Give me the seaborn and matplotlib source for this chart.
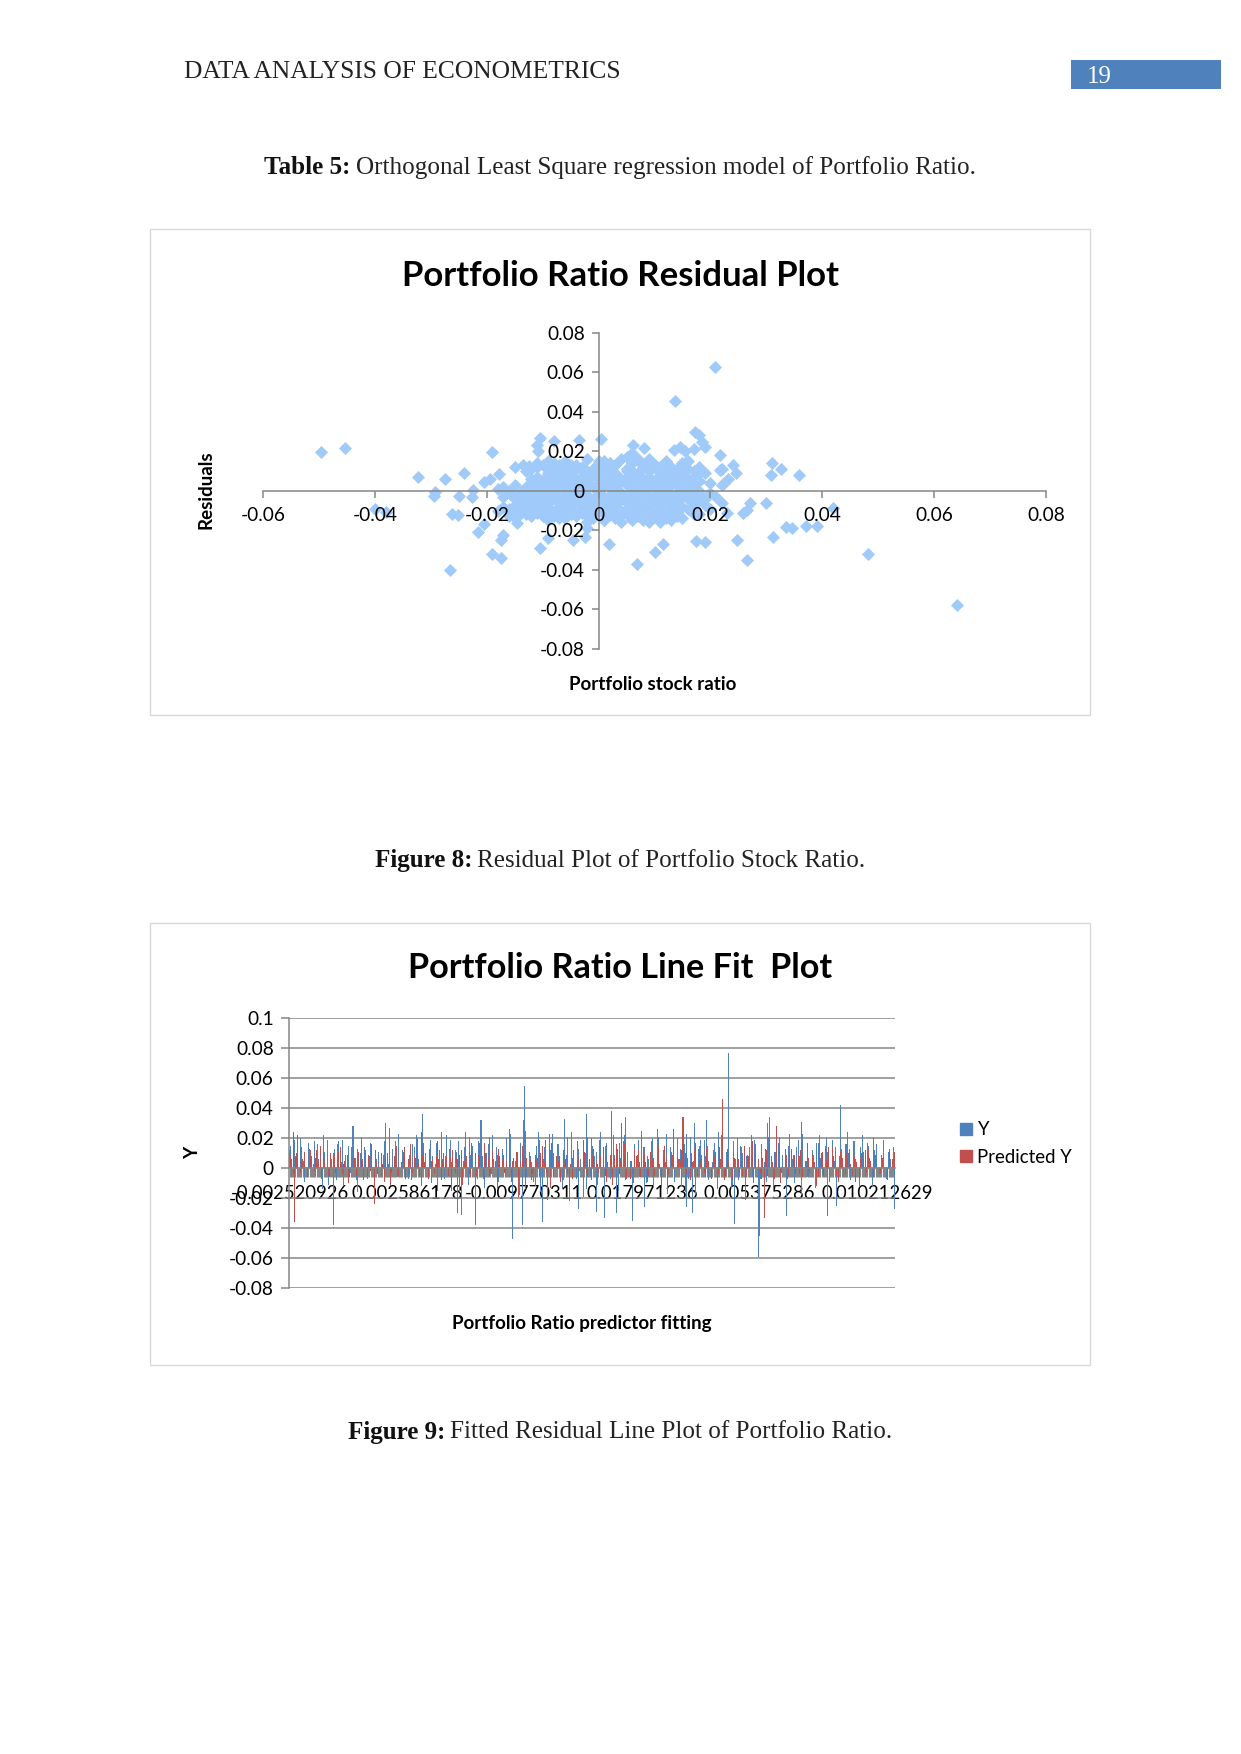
import numpy as np
import pandas as pd
import seaborn as sns
import matplotlib
matplotlib.use("Agg")
import matplotlib.pyplot as plt
from matplotlib.patches import Rectangle, Patch

sns.set_theme(style="white")
plt.rcParams['font.family'] = ['Lato', 'DejaVu Sans']

W, H = 1241, 1754

# ---------- Chart 1 data: residual scatter ----------
OUT_X = [-.0496,-.0453,-.0322,-.0275,-.0295,-.0292,-.0240,-.0250,-.0227,-.0225,-.0400,-.0380,-.0262,-.0252,
         -.0265,-.0190,-.0175,-.0215,-.0205,-.0175,-.0170,-.0105,-.0090,-.0045,-.0025,.0018,.0068,.0100,.0115,
         .0175,.0190,.0247,.0265,.0312,.0335,.0345,.0300,.0270,.0258,.0266,.0370,.0390,.0420,.0482,.0640,
         .0308,.0310,.0326,.0358,.0208,.0136,.0172,-.0190,-.0205,-.0195,-.0178,-.0135,-.0125,-.0110,-.0105,-.0108,
         -.0080,-.0035,.0005,.0060,.0062,.0082,.0135,.0145,.0155,.0180,.0185,.0190,.0218,.0218,.0232,
         .0155,.0160,.0170,.0240,.0245,.0225,-.0020,-.0150,-.0145]
OUT_Y = [.0195,.0218,.0068,.0058,-.0025,-.0005,.0088,-.0025,-.0030,.0005,-.0090,-.0105,-.0120,-.0125,
         -.0400,-.0320,-.0340,-.0210,-.0170,-.0250,-.0225,-.0290,-.0240,-.0250,-.0235,-.0270,-.0370,-.0310,-.0270,
         -.0255,-.0260,-.0250,-.0350,-.0235,-.0185,-.0190,-.0060,-.0060,-.0110,-.0095,-.0180,-.0180,-.0088,-.0320,-.0580,
         .0082,.0138,.0110,.0080,.0625,.0455,.0297,.0195,.0045,.0060,.0085,.0130,.0125,.0230,.0265,.0200,
         .0250,.0255,.0260,.0190,.0230,.0215,.0205,.0220,.0200,.0280,.0245,.0220,.0180,.0105,.0060,
         .0140,.0150,.0210,.0130,.0090,.0040,-.0190,-.0140,-.0165]
CL_X = [-18,-16,-14,-12,-10,-8,-6,-4,-2,0,2,4,6,8,10,12,14,16,18,21,
        -17,-15,-13,-11,-9,-7,-5,-3,-1,1,3,5,7,9,11,13,15,17,19,22,
        -15,-13,-11,-9,-7,-5,-3,-1,1,3,5,7,9,11,13,15,17,19,20,23,
        -12,-10,-8,-6,-4,-2,0,2,4,6,8,10,12,14,16,18,20,22,
        -11,-9,-7,-5,-3,-1,1,3,5,7,9,11,13,15,17,19,
        -9,-6,-4,-2,0,2,3,5,6,8,9,12,14,16,18,
        -18,-16,-14,-12,-10,-8,-6,-4,-2,0,2,4,6,8,10,12,14,16,18,
        -16,-14,-12,-10,-8,-6,-4,-2,1,3,5,7,9,11,13,15,17,
        -15,-12,-11,-9,-7,-3,0,2,5,6,8,9,12,13,15,18,22]
CL_Y = [1,0,-1,1,0,2,0,-1,1,0,2,-1,0,1,2,0,-1,1,0,-3,
        -3,-4,-3,-2,-3,-4,-3,-2,-4,-3,-2,-4,-3,-2,-3,-4,-3,-2,-4,-6,
        -7,-6,-7,-6,-8,-6,-7,-6,-8,-7,-6,-8,-7,-6,-7,-8,-6,-7,-9,-11,
        4,3,5,4,3,5,4,3,5,4,3,4,5,3,4,5,4,3,
        7,8,7,8,7,8,7,8,7,8,7,8,7,8,7,9,
        11,10,11,10,12,10,13,11,10,12,10,11,10,11,9,
        -10,-9,-11,-10,-9,-11,-10,-12,-11,-10,-12,-10,-11,-9,-12,-11,-10,-9,-12,
        -13,-12,-13,-11,-13,-14,-12,-13,-15,-14,-12,-13,-14,-15,-13,-14,-12,
        12,11,14,15,13,12,15,14,17,14,13,16,15,12,14,12,11]
CL2_X = [-17,-15,-13,-11,-9,-7,-5,-3,-1,1,3,5,7,9,11,13,15,17,
         -16,-14,-12,-10,-8,-6,-4,-2,0,2,4,6,8,10,12,14,16,18,20,
         -14,-12,-10,-8,-6,-4,-2,0,2,4,6,8,10,12,14,16,18,
         -17,-15,-13,-11,-9,-7,-5,-3,-1,1,3,5,7,9,11,13,15,17,
         -12,-10,-8,-6,-4,-2,0,2,4,6,8,10,12,14,16,18,
         -9,-7,-5,-3,-1,1,3,5,7,9,11,13,
         -13,-11,-9,-7,-5,-3,-1,1,3,5,7,9,11,13]
CL2_Y = [2,3,2,3,2,3,2,3,2,3,2,3,2,3,2,3,2,3,
         -1,-2,-1,-2,-1,-2,-1,-2,-1,-2,-1,-2,-1,-2,-1,-2,-1,-2,-1,
         -5,-4,-5,-4,-5,-4,-5,-4,-5,-4,-5,-4,-5,-4,-5,-4,-5,
         -8,-9,-8,-9,-8,-9,-8,-9,-8,-9,-8,-9,-8,-9,-8,-9,-8,-9,
         6,5,6,5,6,5,6,5,6,5,6,5,6,5,6,5,
         9,10,9,10,9,10,9,10,9,10,9,10,
         -12,-11,-12,-11,-12,-11,-12,-11,-12,-11,-12,-11,-12,-11]
CL3_X = [-10,-8,-6,-4,-2,0,1,3,4,6,7,9,10,12,
         -13,-11,-8,-5,-1,2,5,8,11,14,17,
         -10,-7,-4,-1,1,4,6,8,10,12,14,
         -9,-6,-2,4,6,9,11,13]
CL3_Y = [13,14,15,13,16,14,15,13,16,14,16,15,13,14,
         10,12,11,13,11,12,11,13,12,11,10,
         -13,-14,-13,-14,-15,-13,-14,-15,-13,-14,-13,
         -15,-14,-16,-16,-15,-16,-16,-15]

# ---------- Chart 2 data: line fit bars (thousandths, even categories) ----------
Y_BASE = [12,-6,19,8,-9,14,5,-12,17,9,3,-5,16,7,-14,11,19,-4,6,13,-8,18,4,-11,9,15,
          -3,12,7,-16,10,5,14,-7,8,2,-13,6,11,-5,9,16,3,-10,13,18,-6,7,12,-4,20,9,
          -8,14,22,6,-12,17,10,-5,19,8,3,-15,12,6,-7,22,13,4,-9,11,18,-6,5,24,-11,9,
          15,3,-7,17,8,-13,10,21,-4,6,14,-9,19,7,-5,12,23,-12,5,9,-18,3,7,-6,11,4,
          -9,15,24,-16,6,19,-21,12,23,-8,16,5,-13,18,9,-22,24,4,-7,13,6,-19,10,21,-5,15,
          8,-11,19,6,-24,17,9,-4,22,12,-15,7,18,-8,11,5,-20,16,9,-6,25,14,-10,6,18,-13,
          9,21,-5,12,4,-17,14,8,-9,20,6,-12,16,23,-7,10,5,-18,13,19,-6,8,15,-11,4,17,
          -14,9,22,-5,11,7,-13,18,6,-8,15,10,-21,5,14,-6,19,8,-12,16,4,-9,21,7,-15,11,
          17,-5,9,13,-7,23,6,-10,14,8,-18,12,5,-6,20,9,-13,17,7,-4,15,11,-9,19,5,-14,
          8,13,-6,16,10,-8,18,6,-11,14,9,-5,17,7,-12,12,16,-4,9,19,-7,11,6,14]
Y_EXTRA = [15,8,20,-9,13,18,6,22,-11,10,16,19,7,14,-8,21,12,17,9,-13,18,15,6,23,11,-7,
           16,20,9,13,-10,17,24,8,19,12,-15,14,21,10,18,-6,16,22,9,13,20,-9,11,17,25,8,
           -12,19,14,23,10,16,-8,21,7,18,13,-14,20,11,24,15,-7,9,17,22,12,-10,19,14,8,20,
           16,-9,23,11,18,13,-16,21,9,15,19,-8,12,24,17,10,-11,20,14,8,22,16,-7,13,18,11,
           21,-13,15,9,19,23,-6,12,17,10,20,-9,14,22,16,8,18,-12,11,15,21,13]
P_BASE = [9,-4,7,13,-3,6,11,-6,4,8,-2,12,5,-7,9,3,-5,10,6,-3,8,14,-4,5,9,-6,
          3,7,-5,11,4,-8,6,9,-2,5,12,-4,7,3,-9,10,6,-3,8,15,-5,4,9,-7,6,16,
          -3,7,11,-5,8,4,-6,13,5,-3,9,6,-8,10,4,-5,7,12,-3,6,9,-11,5,8,-4,17,
          6,-5,9,3,-7,10,7,-4,12,5,-13,8,6,-3,4,9,-6,7,11,-19,5,8,-14,3,6,-4,
          9,7,-5,15,4,-3,10,17,-6,8,5,-9,12,6,-4,3,-7,9,5,-2,7,11,-4,6,-8,13,
          5,-3,8,14,-5,4,9,-11,7,13,-4,6,16,-7,10,5,-3,8,12,-6,7,4,-9,11,6,-5,
          8,3,-13,15,7,-4,9,18,-16,6,5,-3,10,7,-8,4,12,-5,6,9,-3,14,5,-7,8,11,
          -4,6,9,-5,13,4,-8,7,10,-3,5,15,-6,8,4,-10,12,6,-3,7,9,-5,16,4,-7,8,
          11,-3,6,9,-5,13,7,-4,8,12,-6,5,17,-3,9,4,-12,7,10,-5,6,14,-3,8,5,-9,
          11,7,-4,6,13,-5,8,4,-7,10,6,-3,12,5,-6,9,15,-4,7,5,-8,13,6,11]
P_EXTRA = [6,10,4,-8,12,7,15,5,-6,9,11,3,-10,8,13,6,-5,16,4,10,7,-12,5,9,14,-4,
           8,3,11,-7,6,18,5,9,-15,7,12,4,-6,10,8,17,-5,6,13,9,-3,5,11,15,7,-8,
           4,10,6,-13,14,8,5,-4,12,7,19,-6,9,3,11,-9,6,16,5,8,-7,13,4,10,-5,7,
           15,6,-11,9,3,12,-4,8,17,5,-6,10,7,14,-8,4,11,6,-5,9,18,3,-7,12,8,5,
           -10,13,6,9,-4,16,7,5,-6,11,4,14,-5,8,10,3,-9,7,12,6]
Y_PEAK_CAT = [3,37,54,82,85,113,143,146,158,163,187,190,198,199,200,215,234,246,253,261,268,274,278,286,292,
              302,313,338,343,345,355,374,379,399,400,407,409,423,436,451,458,466,469,475,488,515]
Y_PEAK_VAL = [20,-38,28,30,27,36,-30,-31,-38,32,26,-47,-38,32,55,-36,33,-27,36,-29,-33,38,-30,34,-35,
              -26,26,-26,-30,30,32,77,-37,-59,-45,30,34,-32,31,22,-32,-25,42,24,22,-27]
P_PEAK_CAT = [3,4,7,72,112,283,327,335,369,404,415]
P_PEAK_VAL = [24,-36,22,-24,24,30,26,34,46,-33,28]
CAT_TICKS = [0,100,200,300,400,500]
CAT_LABELS = ["-0.002520926","0.002586178","-0.009770311","0.017971236","0.005375286","0.010212629"]

BLUE, RED, GRAY = "#4F81BD", "#C0504D", "#868686"
LBL = 13.8

fig = plt.figure(figsize=(W/100, H/100), dpi=100, facecolor="white")

def axpx(l, t, r, b):
    return fig.add_axes([l/W, 1-b/H, (r-l)/W, (b-t)/H], facecolor="none")

def T(x, y, s, **k):
    k.setdefault("ha", "center"); k.setdefault("va", "center")
    return fig.text(x/W, 1-y/H, s, **k)

def caption(y, bold, rest, fs=18.1):
    fam = "Liberation Serif"
    r = fig.canvas.get_renderer()
    a = T(0, y, bold, family=fam, weight="bold", fontsize=fs, ha="left", color="#111111")
    b = T(0, y, rest, family=fam, fontsize=fs, ha="left", color="#222222")
    wa = a.get_window_extent(r).width; wb = b.get_window_extent(r).width
    x0 = 620 - (wa + wb + 5) / 2
    a.set_x(x0/W); b.set_x((x0 + wa + 5)/W)

# page furniture
T(183.5, 72, "DATA ANALYSIS OF ECONOMETRICS", family="Liberation Serif", fontsize=18.4, ha="left", color="#222222")
fig.add_artist(Rectangle((1071/W, 1-88.5/H), 150/W, 28/H, transform=fig.transFigure, color="#4F81BD", lw=0))
T(1099, 77, "19", family="Liberation Serif", fontsize=18, color="white")
caption(167.5, "Table 5:", "Orthogonal Least Square regression model of Portfolio Ratio.")
caption(860.5, "Figure 8:", "Residual Plot of Portfolio Stock Ratio.")
caption(1432, "Figure 9:", "Fitted Residual Line Plot of Portfolio Ratio.")
for t_, b_ in [(229, 714.5), (923, 1364.5)]:
    fig.add_artist(Rectangle((150/W, 1-b_/H), 939.5/W, (b_-t_)/H, transform=fig.transFigure,
                             fill=False, ec="#D9D9D9", lw=1))

# ---------- Chart 1 ----------
ax1 = axpx(263, 332.5, 1046, 649)
df1 = pd.DataFrame({"x": OUT_X + [v/1000 for v in CL_X + CL2_X + CL3_X],
                    "y": OUT_Y + [v/1000 for v in CL_Y + CL2_Y + CL3_Y]})
sns.scatterplot(data=df1, x="x", y="y", marker="D", s=44, color="#9FCAF9", linewidth=0, ax=ax1, zorder=1)
ax1.set_axisbelow(False)
ax1.set_xlim(-.06, .08); ax1.set_ylim(-.08, .08)
ax1.set_xticks(np.arange(-6, 9, 2)/100)
ax1.set_xticklabels(["-0.06","-0.04","-0.02","0","0.02","0.04","0.06","0.08"])
ax1.set_yticks(np.arange(-8, 9, 2)/100)
ax1.set_yticklabels(["-0.08","-0.06","-0.04","-0.02","0","0.02","0.04","0.06","0.08"])
ax1.spines["left"].set_position(("data", 0)); ax1.spines["bottom"].set_position(("data", 0))
ax1.spines["top"].set_visible(False); ax1.spines["right"].set_visible(False)
for s in ("left", "bottom"):
    ax1.spines[s].set_color(GRAY); ax1.spines[s].set_linewidth(1.1)
ax1.tick_params(axis="both", which="major", left=True, bottom=True, length=5, width=1.1, color=GRAY,
                labelsize=LBL, labelcolor="black")
ax1.tick_params(axis="x", pad=7)
ax1.tick_params(axis="y", pad=5)
ax1.set_xlabel(""); ax1.set_ylabel("")
T(620, 276, "Portfolio Ratio Residual Plot", weight="bold", fontsize=25, color="black")
T(206, 490, "Residuals", weight="bold", fontsize=13.5, rotation=90, color="black")
T(653, 685, "Portfolio stock ratio", weight="bold", fontsize=13.5, color="black")

# ---------- Chart 2 ----------
ax2 = axpx(289, 1018, 895, 1288)
def bars(cats, vals, color, width):
    sns.barplot(x=cats, y=np.array(vals)/1000, native_scale=True, color=color, saturation=1,
                width=width, errorbar=None, linewidth=0, ax=ax2, zorder=1)
bars(np.arange(len(Y_BASE))*2, Y_BASE, BLUE, 0.4)
bars(np.arange(len(Y_EXTRA))*4 + 1, Y_EXTRA, BLUE, 0.2)
bars(Y_PEAK_CAT, Y_PEAK_VAL, BLUE, 0.9)
bars(np.arange(len(P_BASE))*2 + 1, P_BASE, RED, 0.4)
bars(np.arange(len(P_EXTRA))*4 + 2, P_EXTRA, RED, 0.2)
bars(P_PEAK_CAT, P_PEAK_VAL, RED, 0.9)
ax2.set_xlim(-0.5, 515.5); ax2.set_ylim(-.08, .1)
ax2.set_axisbelow(True)
ax2.set_yticks(np.arange(-8, 11, 2)/100)
ax2.set_yticklabels(["-0.08","-0.06","-0.04","-0.02","0","0.02","0.04","0.06","0.08","0.1"])
ax2.yaxis.grid(True, color=GRAY, lw=1.1); ax2.xaxis.grid(False)
ax2.set_xticks(CAT_TICKS); ax2.set_xticklabels(CAT_LABELS)
ax2.set_xticks(np.arange(0, 516), minor=True)
ax2.spines["bottom"].set_position(("data", 0))
ax2.spines["top"].set_visible(False); ax2.spines["right"].set_visible(False)
for s in ("left", "bottom"):
    ax2.spines[s].set_color(GRAY); ax2.spines[s].set_linewidth(1.1)
ax2.tick_params(axis="y", left=True, length=6, width=1.1, color=GRAY, labelsize=LBL, labelcolor="black", pad=5)
ax2.tick_params(axis="x", which="major", bottom=True, length=6.5, width=0.8, color=GRAY, labelsize=13.35, labelcolor="black", pad=5.5)
ax2.tick_params(axis="x", which="minor", bottom=True, length=6.5, width=0.8, color=GRAY)
ax2.set_xlabel(""); ax2.set_ylabel("")
ax2.legend(handles=[Patch(color=BLUE, label="Y"), Patch(color=RED, label="Predicted Y")],
           frameon=False, fontsize=13.4, handlelength=0.62, handleheight=0.62, handletextpad=0.3,
           labelspacing=0.55, loc="center left", bbox_to_anchor=(960/W, 1-1143.5/H),
           bbox_transform=fig.transFigure, borderpad=0, borderaxespad=0, labelcolor="black")
T(620, 968, "Portfolio Ratio Line Fit  Plot", weight="bold", fontsize=24.7, color="black")
T(193, 1153, "Y", weight="bold", fontsize=13.5, rotation=90, color="black")
T(582, 1323, "Portfolio Ratio predictor fitting", weight="bold", fontsize=13.5, color="black")

fig.savefig("out.png", dpi=100, facecolor="white")
